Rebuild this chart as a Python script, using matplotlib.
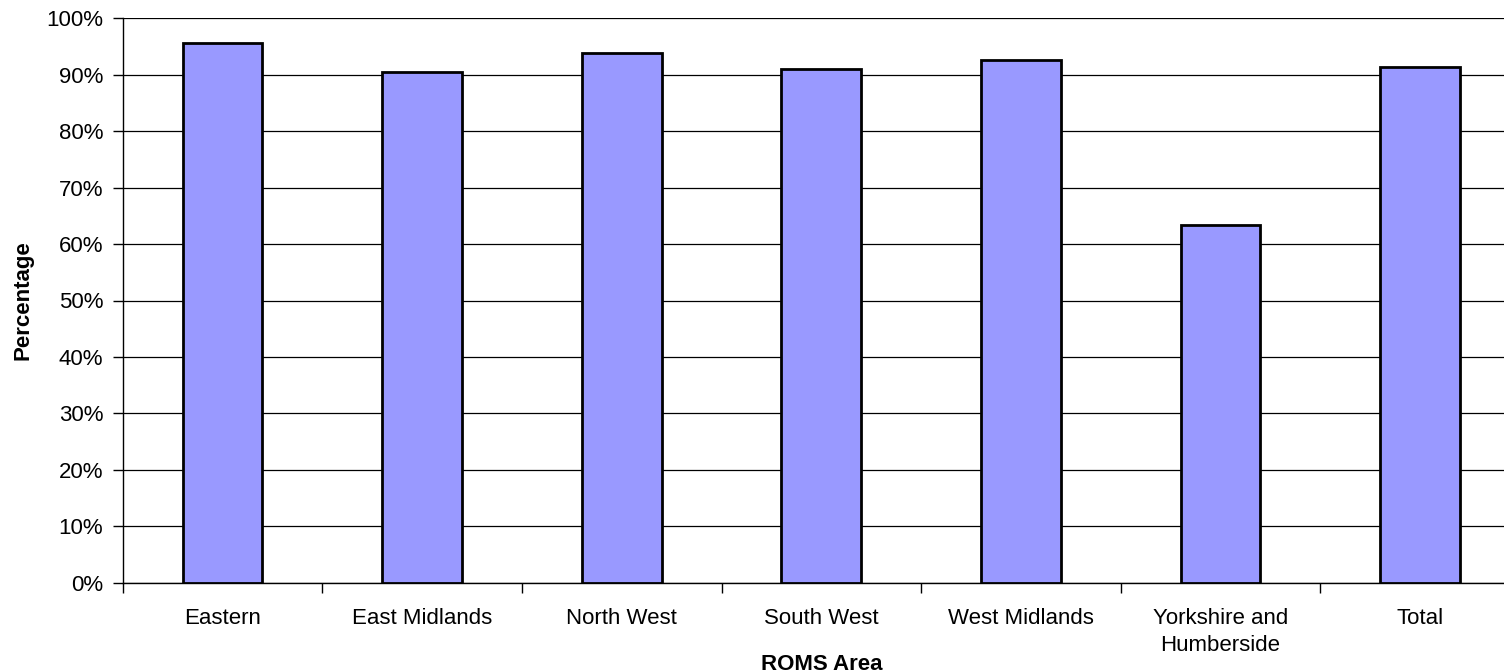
import matplotlib
matplotlib.use("Agg")
import matplotlib.pyplot as plt
import numpy as np
from matplotlib.ticker import PercentFormatter

plt.rcParams['font.family'] = ['Liberation Sans', 'DejaVu Sans']
plt.rcParams['font.size'] = 16

categories = ["Eastern", "East Midlands", "North West", "South West",
              "West Midlands", "Yorkshire and\nHumberside", "Total"]
values = [95.7, 90.4, 93.8, 91.1, 92.7, 63.4, 91.4]
y_ticks = list(range(0, 101, 10))

fig = plt.figure(figsize=(15.04, 6.72), dpi=100)
left = 122.7 / 1504
bottom = 1 - 582.7 / 672
top = 1 - 18.3 / 672
width = (7 * 199.6) / 1504
ax = fig.add_axes([left, bottom, width, top - bottom])

x = np.arange(len(categories))
ax.set_axisbelow(True)
ax.bar(x, values, width=0.4, color="#9999FF", edgecolor="black", linewidth=2, zorder=3)

ax.set_xlim(-0.5, len(categories) - 0.5)
ax.set_ylim(0, 100)
ax.set_yticks(y_ticks)
ax.yaxis.set_major_formatter(PercentFormatter(decimals=0))
ax.yaxis.grid(True, color="black", linewidth=0.9)

ax.set_xticks(x)
ax.set_xticklabels(categories, linespacing=1.4)
ax.set_xticks(np.arange(-0.5, len(categories) + 0.5, 1), minor=True)
ax.tick_params(axis='x', which='major', length=0, pad=18)
ax.tick_params(axis='x', which='minor', length=7, width=1, direction='out', color='black')
ax.tick_params(axis='y', length=7, width=1, direction='out', pad=7)

for s in ['top', 'right']:
    ax.spines[s].set_visible(False)
ax.spines['left'].set_linewidth(1)
ax.spines['bottom'].set_linewidth(1)

fig.text((122.7 + 3.5 * 199.6) / 1504, 1 - 664 / 672, "ROMS Area",
         fontweight="bold", ha="center", va="center")
ax.set_ylabel("Percentage", fontweight="bold", labelpad=9)

fig.savefig("out.png", dpi=100)
